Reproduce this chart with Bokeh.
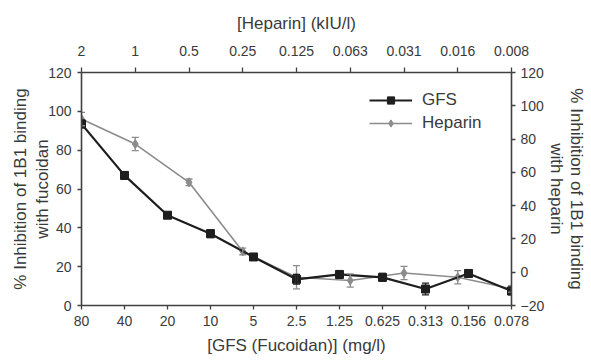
from bokeh.plotting import figure
from bokeh.models import (Range1d, LinearAxis, FixedTicker, ColumnDataSource,
                          Whisker, TeeHead, Legend, LegendItem)
from bokeh.embed import file_html
from bokeh.resources import INLINE

# ---- data ----
gfs_labels = ["80", "40", "20", "10", "5", "2.5", "1.25", "0.625", "0.313", "0.156", "0.078"]
gfs_values = [93.5, 67.0, 46.5, 37.0, 25.0, 13.5, 16.0, 14.5, 8.5, 16.5, 7.5]
gfs_errors = [2.0, 2.0, 1.5, 2.0, 1.5, 2.5, 2.0, 2.0, 3.0, 2.0, 2.0]

hep_labels = ["2", "1", "0.5", "0.25", "0.125", "0.063", "0.031", "0.016", "0.008"]
hep_values = [92.0, 77.0, 54.0, 12.5, -3.0, -5.0, -0.5, -3.0, -10.0]
hep_errors = [4.0, 4.0, 2.0, 2.0, 7.0, 4.0, 4.0, 4.0, 2.0]

left_ticks = [0, 20, 40, 60, 80, 100, 120]
right_ticks = [-20, 0, 20, 40, 60, 80, 100, 120]

FONT = "Liberation Sans"
TXT = "#3a3a3a"
AX = "#404040"
GFS_C = "#1e1e1e"
HEP_C = "#8c8c8c"

gfs_x = list(range(len(gfs_labels)))
hep_x = list(range(len(hep_labels)))

p = figure(frame_width=430, frame_height=233, output_backend="svg", toolbar_location=None,
           x_range=Range1d(0, len(gfs_labels) - 1),
           y_range=Range1d(left_ticks[0], left_ticks[-1]),
           min_border_left=81, min_border_right=64, min_border_top=72, min_border_bottom=49)
p.extra_x_ranges = {"top": Range1d(0, len(hep_labels) - 1)}
p.extra_y_ranges = {"right": Range1d(right_ticks[0], right_ticks[-1])}
p.outline_line_color = None
p.xgrid.visible = False
p.ygrid.visible = False
p.background_fill_color = "white"
p.border_fill_color = "white"


def style_axis(ax, tick_out=4, standoff=5, label_standoff=6, title_size="17px", line_h=1.15):
    ax.axis_line_color = AX
    ax.axis_line_width = 1.6
    ax.major_tick_line_color = AX
    ax.major_tick_line_width = 1.3
    ax.major_tick_in = 0
    ax.major_tick_out = tick_out
    ax.minor_tick_line_color = None
    ax.major_label_text_font = FONT
    ax.major_label_text_font_size = "14px"
    ax.major_label_text_color = TXT
    ax.major_label_standoff = standoff
    ax.axis_label_text_font = FONT
    ax.axis_label_text_font_size = title_size
    ax.axis_label_text_font_style = "normal"
    ax.axis_label_text_color = TXT
    ax.axis_label_text_line_height = line_h
    ax.axis_label_standoff = label_standoff


# bottom axis
xb = p.xaxis[0]
xb.ticker = FixedTicker(ticks=gfs_x)
xb.major_label_overrides = {i: s for i, s in zip(gfs_x, gfs_labels)}
xb.axis_label = "[GFS (Fucoidan)] (mg/l)"
style_axis(xb, tick_out=4, standoff=6, label_standoff=7)

# left axis
yl = p.yaxis[0]
yl.ticker = FixedTicker(ticks=left_ticks)
yl.axis_label = "% Inhibition of 1B1 binding\nwith fucoidan"
style_axis(yl, tick_out=4, standoff=6, label_standoff=-7)

# top axis
xt = LinearAxis(x_range_name="top")
xt.ticker = FixedTicker(ticks=hep_x)
xt.major_label_overrides = {i: s for i, s in zip(hep_x, hep_labels)}
xt.axis_label = "[Heparin] (kIU/l)"
style_axis(xt, tick_out=5, standoff=12, label_standoff=10)
p.add_layout(xt, "above")

# right axis
yr = LinearAxis(y_range_name="right")
yr.ticker = FixedTicker(ticks=right_ticks)
yr.axis_label = "% Inhibition of 1B1 binding\nwith heparin"
style_axis(yr, tick_out=4, standoff=5, label_standoff=0, line_h=1.05)
p.add_layout(yr, "right")

# ---- series ----
gfs_src = ColumnDataSource(data=dict(
    x=gfs_x, y=gfs_values,
    upper=[v + e for v, e in zip(gfs_values, gfs_errors)],
    lower=[v - e for v, e in zip(gfs_values, gfs_errors)]))
hep_src = ColumnDataSource(data=dict(
    x=hep_x, y=hep_values,
    upper=[v + e for v, e in zip(hep_values, hep_errors)],
    lower=[v - e for v, e in zip(hep_values, hep_errors)]))

hep_w = Whisker(base="x", upper="upper", lower="lower", source=hep_src, dimension="height",
                line_color=HEP_C, line_width=1.3,
                upper_head=TeeHead(size=7, line_color=HEP_C, line_width=1.3),
                lower_head=TeeHead(size=7, line_color=HEP_C, line_width=1.3),
                x_range_name="top", y_range_name="right", level="glyph")
p.add_layout(hep_w)
hep_line = p.line("x", "y", source=hep_src, line_color=HEP_C, line_width=1.6,
                  x_range_name="top", y_range_name="right")
hep_mark = p.scatter("x", "y", source=hep_src, marker="diamond", size=9,
                     fill_color=HEP_C, line_color=HEP_C,
                     x_range_name="top", y_range_name="right")

gfs_w = Whisker(base="x", upper="upper", lower="lower", source=gfs_src, dimension="height",
                line_color=GFS_C, line_width=1.3,
                upper_head=TeeHead(size=7, line_color=GFS_C, line_width=1.3),
                lower_head=TeeHead(size=7, line_color=GFS_C, line_width=1.3),
                level="glyph")
p.add_layout(gfs_w)
gfs_line = p.line("x", "y", source=gfs_src, line_color=GFS_C, line_width=2.2)
gfs_mark = p.scatter("x", "y", source=gfs_src, marker="square", size=8,
                     fill_color=GFS_C, line_color=GFS_C)

legend = Legend(items=[LegendItem(label="GFS", renderers=[gfs_line, gfs_mark]),
                       LegendItem(label="Heparin", renderers=[hep_line, hep_mark])],
                location=(288, 172), orientation="vertical",
                label_text_font=FONT, label_text_font_size="17px", label_text_color=TXT,
                glyph_width=43, glyph_height=18, label_standoff=10, spacing=3,
                padding=0, margin=0, border_line_color=None, background_fill_alpha=0)
p.add_layout(legend)

open("out.html", "w").write(file_html(p, INLINE))
